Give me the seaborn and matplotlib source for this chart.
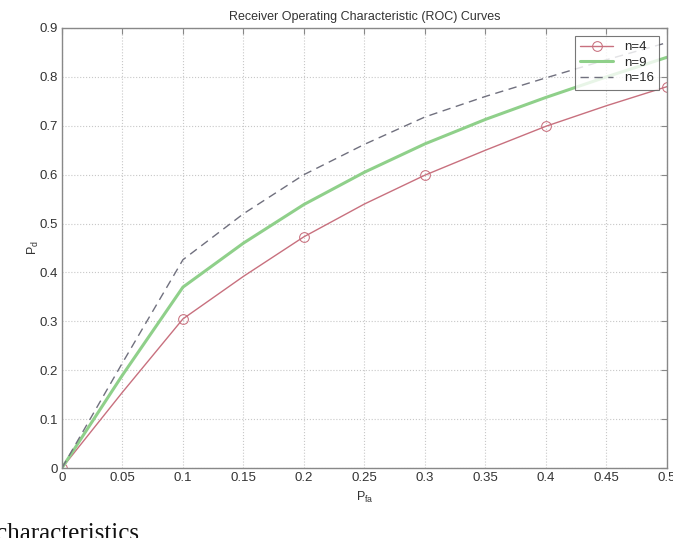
import numpy as np
import pandas as pd
import matplotlib
matplotlib.use('Agg')
import matplotlib.pyplot as plt
import seaborn as sns

# -------- DATA --------
pfa = [0, 0.05, 0.1, 0.15, 0.2, 0.25, 0.3, 0.35, 0.4, 0.45, 0.5]
pd_n4 = [0, 0.155, 0.305, 0.392, 0.473, 0.54, 0.599, 0.65, 0.699, 0.741, 0.78]
pd_n9 = [0, 0.19, 0.37, 0.46, 0.539, 0.605, 0.663, 0.713, 0.758, 0.80, 0.84]
pd_n16 = [0, 0.215, 0.426, 0.52, 0.60, 0.662, 0.718, 0.76, 0.798, 0.835, 0.87]
labels = ['n=4', 'n=9', 'n=16']

df = pd.DataFrame({'Pfa': pfa * 3,
                   'Pd': pd_n4 + pd_n9 + pd_n16,
                   'n': [labels[0]] * len(pfa) + [labels[1]] * len(pfa) + [labels[2]] * len(pfa)})

# -------- STYLE --------
sns.set_style('white')
plt.rcParams['font.family'] = ['Liberation Sans', 'DejaVu Sans']

fig = plt.figure(figsize=(6.73, 5.38), dpi=100)
ax = fig.add_axes([0.092, 0.130, 0.899, 0.818])

colors = {'n=4': '#c8707e', 'n=9': '#8fd08a', 'n=16': '#70707e'}
sns.lineplot(data=df[df['n'] == 'n=4'], x='Pfa', y='Pd', ax=ax, color=colors['n=4'],
             lw=1.0, marker='o', markersize=7, markerfacecolor='none',
             markeredgecolor=colors['n=4'], markevery=2, label='n=4')
sns.lineplot(data=df[df['n'] == 'n=9'], x='Pfa', y='Pd', ax=ax, color=colors['n=9'],
             lw=2.2, label='n=9')
sns.lineplot(data=df[df['n'] == 'n=16'], x='Pfa', y='Pd', ax=ax, color=colors['n=16'],
             lw=1.0, linestyle=(0, (6, 4)), label='n=16')

ax.set_xlim(0, 0.5)
ax.set_ylim(0, 0.9)
xt = np.round(np.arange(0, 0.501, 0.05), 2)
yt = np.round(np.arange(0, 0.901, 0.1), 1)
ax.set_xticks(xt)
ax.set_xticklabels(['0' if v == 0 else f'{v:g}' for v in xt])
ax.set_yticks(yt)
ax.set_yticklabels(['0' if v == 0 else f'{v:g}' for v in yt])
ax.tick_params(direction='in', length=4, top=True, right=True, labelsize=9.5,
               color='#888888', labelcolor='#333333', pad=3)
ax.grid(True, linestyle=':', color='#c8c8c8', lw=0.8)
for s in ax.spines.values():
    s.set_color('#888888')
    s.set_linewidth(1.0)

ax.set_title('Receiver Operating Characteristic (ROC) Curves', fontsize=9, color='#333333', pad=6)
ax.set_xlabel(r'$\mathregular{P_{fa}}$', fontsize=9, color='#333333', labelpad=4)
ax.set_ylabel(r'$\mathregular{P_d}$', fontsize=9, color='#333333', labelpad=-1)

leg = ax.legend(loc='upper right', fontsize=9.5, frameon=True, fancybox=False,
                edgecolor='#555555', handlelength=2.5, borderaxespad=0.6,
                labelspacing=0.25, borderpad=0.4)
leg.get_frame().set_linewidth(0.8)

fig.text(-0.006, -0.004, 'characteristics', family='Liberation Serif', fontsize=18, color='#111111')

fig.savefig('out.png', dpi=100)
